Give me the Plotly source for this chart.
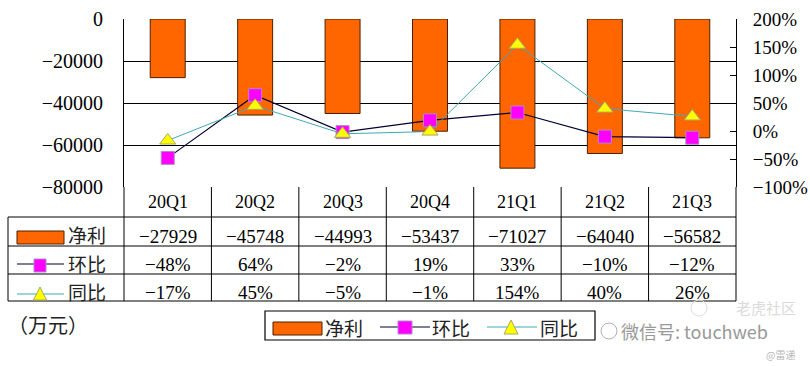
import plotly.graph_objects as go

categories = ["20Q1", "20Q2", "20Q3", "20Q4", "21Q1", "21Q2", "21Q3"]
net_profit = [-27929, -45748, -44993, -53437, -71027, -64040, -56582]
qoq = [-48, 64, -2, 19, 33, -10, -12]
yoy = [-17, 45, -5, -1, 154, 40, 26]
left_ticks = [0, -20000, -40000, -60000, -80000]
right_ticks = [200, 150, 100, 50, 0, -50, -100]
series_names = ["净利", "环比", "同比"]

W, H = 810, 366
L, R, T, B = 124, 736, 19, 187
PW, PH = R - L, B - T

def px(x):
    return (x - L) / PW

def py(y):
    return (B - y) / PH

def fmt(v):
    return ("\u2212" + str(abs(v))) if v < 0 else str(v)

def pct(v):
    return fmt(v) + "%"

SERIF = "Liberation Serif, Noto Sans CJK SC"
CJK = "Noto Sans CJK SC, Noto Sans CJK JP"
ORANGE = "#FF6600"
BAR_EDGE = "#4a2000"
NAVY = "#000033"
TEAL = "#3fa9b5"
MAGENTA = "#FF00FF"
SQ_EDGE = "#b088c8"
YELLOW = "#FFFF00"
TRI_EDGE = "#a8a860"

fig = go.Figure()
fig.add_trace(go.Bar(x=categories, y=net_profit, name=series_names[0], width=0.4,
                     marker=dict(color=ORANGE, line=dict(color=BAR_EDGE, width=1))))
fig.add_trace(go.Scatter(x=categories, y=qoq, name=series_names[1], yaxis="y2", mode="lines+markers",
                         line=dict(color=NAVY, width=1.2),
                         marker=dict(symbol="square", size=13, color=MAGENTA,
                                     line=dict(color=SQ_EDGE, width=1))))
fig.add_trace(go.Scatter(x=categories, y=yoy, name=series_names[2], yaxis="y2", mode="lines+markers",
                         line=dict(color=TEAL, width=1),
                         marker=dict(symbol="triangle-up", size=14, color=YELLOW,
                                     line=dict(color=TRI_EDGE, width=1))))

shapes = []
ann = []
line_k = dict(color="black", width=1)
ROWS = [217, 246, 274, 301]
for yy in ROWS:
    shapes.append(dict(type="line", xref="paper", yref="paper", x0=px(8), x1=1, y0=py(yy), y1=py(yy), line=line_k))
shapes.append(dict(type="line", xref="paper", yref="paper", x0=px(8), x1=px(8), y0=py(217), y1=py(301), line=line_k))
for k in range(len(categories) + 1):
    xx = k / len(categories)
    shapes.append(dict(type="line", xref="paper", yref="paper", x0=xx, x1=xx, y0=0, y1=py(301), line=line_k))

rows = [(236, [fmt(v) for v in net_profit]), (264, [pct(v) for v in qoq]), (292, [pct(v) for v in yoy])]
for i, c in enumerate(categories):
    ann.append(dict(x=c, xref="x", xanchor="center", y=py(202), yref="paper", yanchor="middle",
                    text=c, showarrow=False, font=dict(family=SERIF, size=18, color="black")))
    for yy, vals in rows:
        ann.append(dict(x=c, xref="x", xanchor="center", y=py(yy), yref="paper", yanchor="middle",
                        text=vals[i], showarrow=False, font=dict(family=SERIF, size=19, color="black")))


def rect_sw(x0, x1, y0, y1, fill, edge):
    shapes.append(dict(type="rect", xref="paper", yref="paper", x0=px(x0), x1=px(x1), y0=py(y1), y1=py(y0),
                       fillcolor=fill, line=dict(color=edge, width=1)))


def hline(x0, x1, y, color, w):
    shapes.append(dict(type="line", xref="paper", yref="paper", x0=px(x0), x1=px(x1), y0=py(y), y1=py(y),
                       line=dict(color=color, width=w)))


def tri_sw(xc, ytop, ybot, half):
    path = "M {} {} L {} {} L {} {} Z".format(px(xc - half), py(ybot), px(xc + half), py(ybot), px(xc), py(ytop))
    shapes.append(dict(type="path", xref="paper", yref="paper", path=path, fillcolor=YELLOW,
                       line=dict(color=TRI_EDGE, width=1)))


def label(x, y, t, size=19, anchor="left", color="#222", pad=1):
    ann.append(dict(x=px(x), xref="paper", xanchor=anchor, y=py(y), yref="paper", yanchor="middle",
                    text=t, showarrow=False, borderpad=pad, font=dict(family=CJK, size=size, color=color)))

# table row labels
rect_sw(17, 64, 231, 244, ORANGE, BAR_EDGE)
hline(17, 64, 264, NAVY, 1.2)
rect_sw(34, 46, 259, 272, MAGENTA, SQ_EDGE)
hline(17, 64, 294, TEAL, 1)
tri_sw(40, 287, 300, 6.5)
label(66, 235, series_names[0])
label(66, 263, series_names[1])
label(66, 291, series_names[2])

# manual legend
shapes.append(dict(type="rect", xref="paper", yref="paper", x0=px(265), x1=px(595), y0=py(340), y1=py(311),
                   fillcolor="white", line=dict(color="black", width=1.2)))
rect_sw(273, 322, 322, 335, ORANGE, BAR_EDGE)
label(323, 327, series_names[0])
hline(380, 430, 327, NAVY, 1.2)
rect_sw(398, 412, 321, 334, MAGENTA, SQ_EDGE)
label(430, 327, series_names[1])
hline(487, 537, 327, TEAL, 1)
tri_sw(511, 320, 334, 7)
label(538, 327, series_names[2])

label(6, 324, "（万元）", size=20)
label(620, 331, "微信号: touchweb", size=18, color="#999999", pad=0)
label(797, 307, "老虎社区", size=15, anchor="right", color="#dadada", pad=0)
label(796, 354, "@雷递", size=10, anchor="right", color="#b5b5b5", pad=0)
shapes.append(dict(type="circle", xref="paper", yref="paper", x0=px(601), x1=px(617), y0=py(339), y1=py(323),
                   line=dict(color="#b0b0b0", width=1)))
shapes.append(dict(type="circle", xref="paper", yref="paper", x0=px(691), x1=px(707), y0=py(316), y1=py(300),
                   line=dict(color="#dddddd", width=1)))

fig.update_layout(
    width=W, height=H, margin=dict(l=L, r=W - R, t=T, b=H - B, autoexpand=False),
    paper_bgcolor="white", plot_bgcolor="white",
    showlegend=False,
    xaxis=dict(showticklabels=False, ticks="", showgrid=False, showline=False, zeroline=False,
               range=[-0.5, len(categories) - 0.5]),
    yaxis=dict(range=[-80000, 0], tickvals=left_ticks, ticktext=[fmt(v) for v in left_ticks],
               showgrid=True, gridcolor="black", gridwidth=1,
               showline=True, linecolor="black", zeroline=False, ticks="", ticklabelstandoff=16,
               tickfont=dict(family=SERIF, size=20, color="black")),
    yaxis2=dict(range=[-100, 200], tickvals=right_ticks, ticktext=[pct(v) for v in right_ticks],
                overlaying="y", side="right",
                showgrid=False, zeroline=False, showline=True, linecolor="black", ticks="inside",
                ticklen=6, tickcolor="black", ticklabelstandoff=12,
                tickfont=dict(family=SERIF, size=19, color="black")),
    shapes=shapes, annotations=ann,
)
fig.write_html("out.html", config={"displayModeBar": False},
               post_script="document.body.style.margin='0';document.body.style.padding='0';")
